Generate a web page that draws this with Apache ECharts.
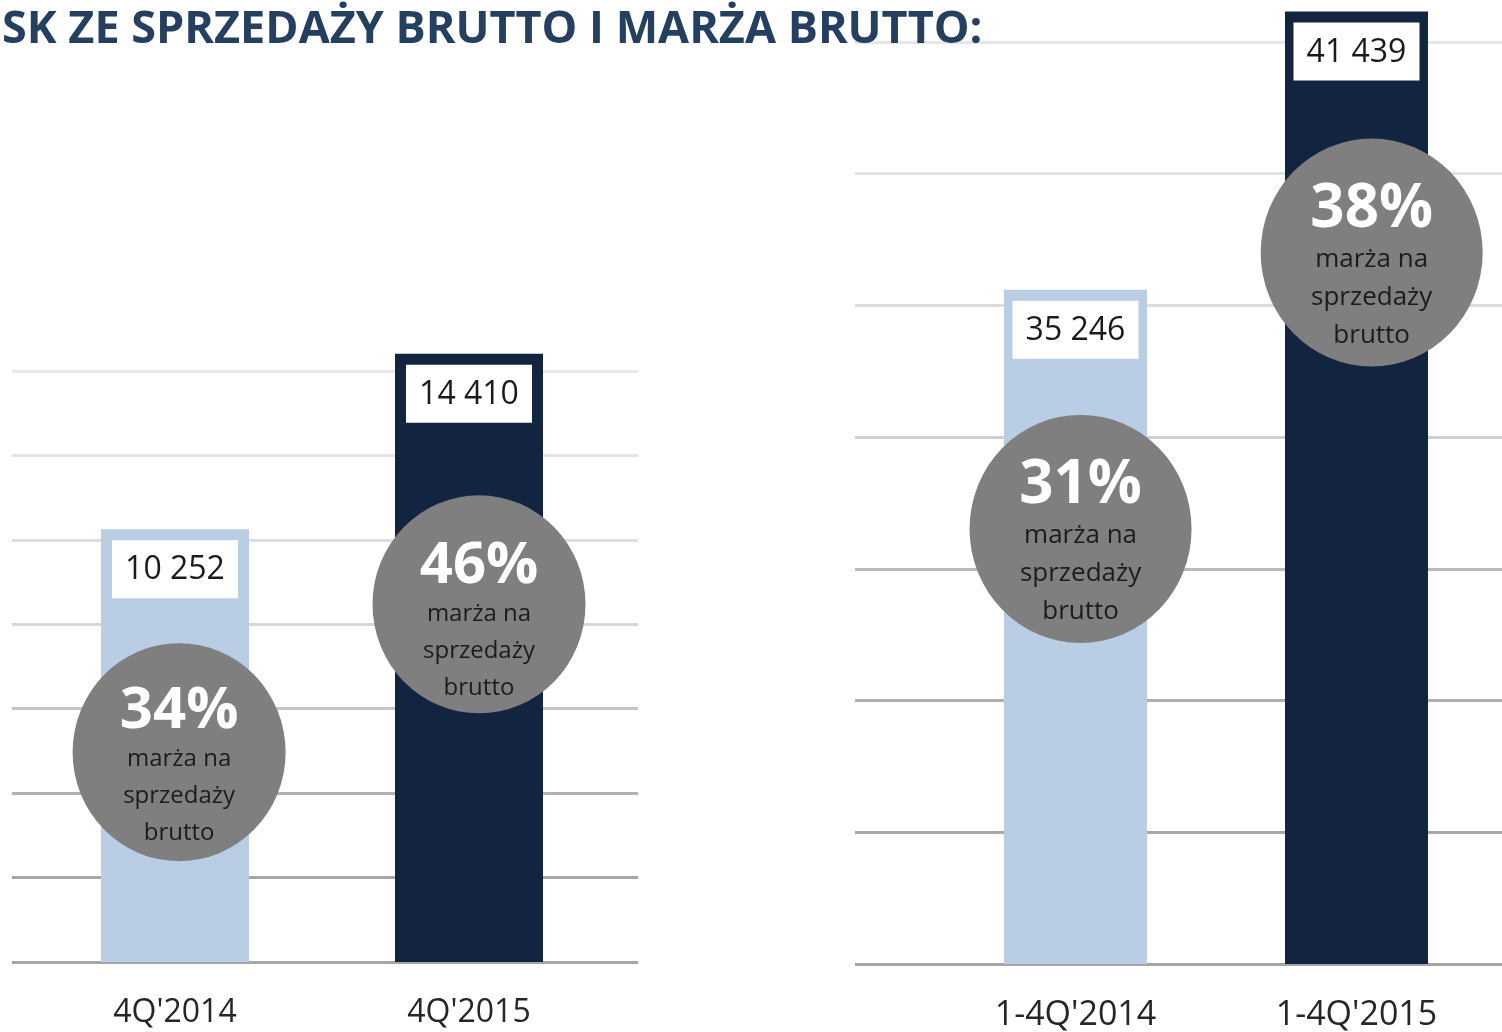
<!DOCTYPE html>
<html>
<head>
<meta charset="utf-8">
<script src="https://cdn.jsdelivr.net/npm/echarts@6/dist/echarts.min.js"></script>
<style>
  html, body { margin: 0; padding: 0; background: #fff; }
  #main { width: 1502px; height: 1032px; }
</style>
</head>
<body>
<div id="main"></div>
<script>
var chart = echarts.init(document.getElementById('main'));

// dane z wykresu
var quarterLabels = ["4Q'2014", "4Q'2015"];
var quarterSales = [10252, 14410];
var quarterMargin = [34, 46];

var yearLabels = ["1-4Q'2014", "1-4Q'2015"];
var yearSales = [35246, 41439];
var yearMargin = [31, 38];

// wyglad
var FONT = '"Open Sans", "Noto Sans", sans-serif';
var barColors = ['#b9cde5', '#12243f'];
var badgeColor = '#7f7f7f';
// polozenie kol: przesuniecie x od slupka, y w jednostkach osi, przesuniecie tekstu
var badgeQ = [[0.014, 4970, 15], [0.034, 8473, 18]];
var badgeY = [[0.018, 29928, 14], [0.054, 36077, 14]];
var leftLines = ['#a6a6a6', '#a6a6a6', '#b2b2b2', '#c6c6c6', '#d6d6d6', '#dedede', '#e4e4e4', '#e8e8e8'];
var rightLines = ['#a6a6a6', '#a8a8a8', '#b0b0b0', '#bababa', '#cfcfcf', '#dcdcdc', '#e2e2e2', '#e6e6e6'];

function fmt(v) {
    return String(v).replace(/\B(?=(\d{3})+(?!\d))/g, ' ');
}

function barSeries(values, xi, yi, width, clip) {
    return {
        type: 'bar',
        xAxisIndex: xi,
        yAxisIndex: yi,
        barWidth: width,
        clip: clip,
        silent: true,
        data: values.map(function (v, i) {
            return {value: [i, v], itemStyle: {color: barColors[i]}};
        }),
        label: {
            show: true,
            position: 'insideTop',
            distance: 11,
            formatter: function (p) { return fmt(p.value[1]); },
            backgroundColor: '#fff',
            padding: [12, 13, 10, 13],
            width: 100,
            align: 'center',
            fontFamily: FONT,
            fontSize: 32,
            lineHeight: 36,
            color: '#1a1a1a'
        }
    };
}

function badgeSeries(pos, margins, xi, yi, size, big, small, bigLh, smallLh) {
    return {
        type: 'scatter',
        xAxisIndex: xi,
        yAxisIndex: yi,
        symbol: 'circle',
        symbolSize: size,
        clip: false,
        silent: true,
        z: 5,
        itemStyle: {color: badgeColor, opacity: 1},
        data: pos.map(function (p, i) {
            return {
                value: [i + p[0], p[1]],
                label: {offset: [0, p[2]]}
            };
        }),
        label: {
            show: true,
            position: 'inside',
            formatter: function (p) {
                return '{big|' + margins[p.dataIndex] + '%}\n{small|marża na}\n{small|sprzedaży}\n{small|brutto}';
            },
            rich: {
                big: {fontFamily: FONT, fontSize: big, fontWeight: 'bold', color: '#fff', lineHeight: bigLh, align: 'center'},
                small: {fontFamily: FONT, fontSize: small, color: '#1c1c1c', lineHeight: smallLh, align: 'center'}
            }
        }
    };
}

var option = {
    backgroundColor: '#fff',
    animation: false,
    title: {
        text: 'SK ZE SPRZEDAŻY BRUTTO I MARŻA BRUTTO:',
        left: -3,
        top: 3,
        textStyle: {fontFamily: FONT, fontSize: 45, fontWeight: 'bold', color: '#243f60'}
    },
    grid: [
        {left: 12, top: 371, width: 626, height: 591},
        {left: 855, top: 0, width: 647, height: 966}
    ],
    xAxis: [
        {
            gridIndex: 0, type: 'value', min: -0.5544, max: 1.5748,
            axisLine: {show: false}, axisTick: {show: false}, splitLine: {show: false},
            axisLabel: {
                customValues: [0, 1],
                formatter: function (v) { return quarterLabels[Math.round(v)]; },
                margin: 35, fontFamily: FONT, fontSize: 32, color: '#262626'
            }
        },
        {
            gridIndex: 1, type: 'value', min: -0.7847, max: 1.5178,
            axisLine: {show: false}, axisTick: {show: false}, splitLine: {show: false},
            axisLabel: {
                customValues: [0, 1],
                formatter: function (v) { return yearLabels[Math.round(v)]; },
                margin: 34, fontFamily: FONT, fontSize: 34, color: '#262626'
            }
        }
    ],
    yAxis: [
        {
            gridIndex: 0, type: 'value', min: 0, max: 14000, interval: 2000,
            axisLine: {show: false}, axisTick: {show: false}, axisLabel: {show: false},
            splitLine: {show: true, lineStyle: {color: leftLines, width: 3}}
        },
        {
            gridIndex: 1, type: 'value', min: 0, max: 7.318, interval: 1,
            axisLine: {show: false}, axisTick: {show: false}, axisLabel: {show: false},
            splitLine: {show: true, showMaxLine: false, lineStyle: {color: rightLines, width: 3}}
        },
        {
            gridIndex: 1, type: 'value', min: 20250, max: 41693, show: false,
            splitLine: {show: false}
        }
    ],
    series: [
        barSeries(quarterSales, 0, 0, 148, false),
        badgeSeries(badgeQ, quarterMargin, 0, 0, [213, 218], 58, 24, 58, 37),
        barSeries(yearSales, 1, 2, 143, true),
        badgeSeries(badgeY, yearMargin, 1, 2, [222, 228], 60, 26, 62, 38)
    ]
};
chart.setOption(option);
</script>
</body>
</html>
